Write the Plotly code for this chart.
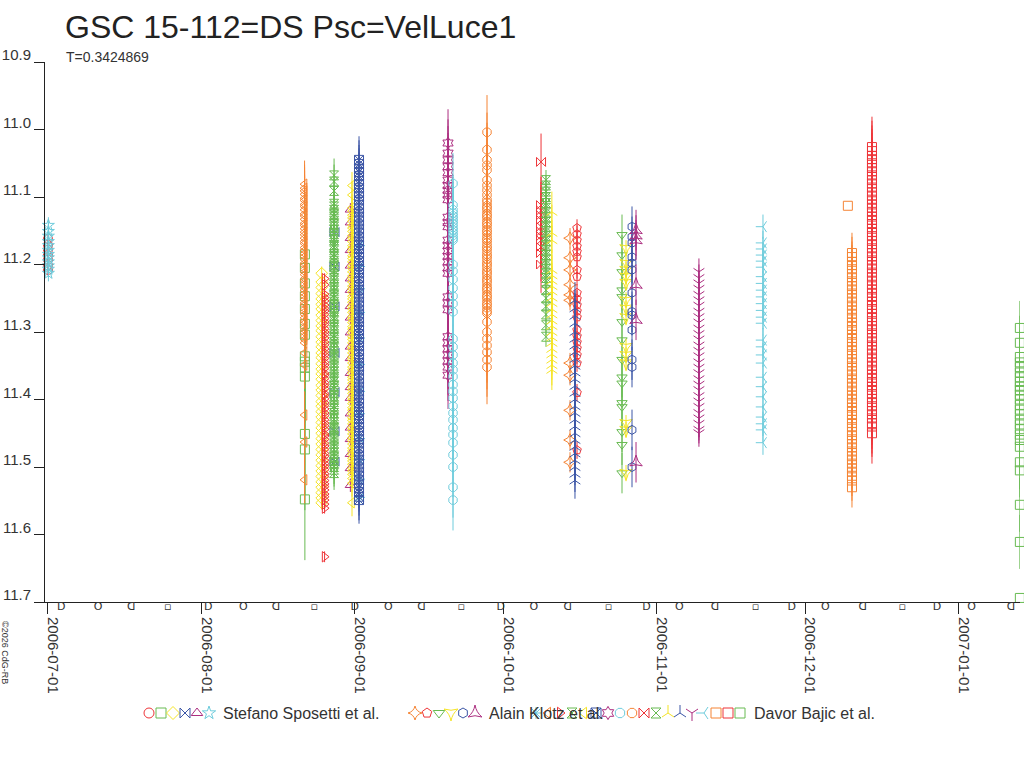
import plotly.graph_objects as go

# colour cycle of the plotting program, used in legend order
palette = ["#ee3438", "#68bb52", "#f5e426", "#3c56a6", "#ac2e80", "#6eccdc", "#f58434"]

observers = ["Stefano Sposetti et al.", "Alain Klotz et al.", "Davor Bajic et al."]
series_count = [6, 6, 18]
series_symbol = [
    "circle-open", "square-open", "diamond-open", "bowtie-open", "triangle-up-open", "star-open",
    "star-diamond-open", "pentagon-open", "triangle-down-open", "star-triangle-down-open", "hexagon-open",
    "star-triangle-up-open",
    "asterisk-open", "triangle-left-open", "triangle-right-open", "hourglass-open", "triangle-left-open",
    "square-x-open", "hexagram-open", "octagon-open", "octagon-open", "bowtie-open", "hourglass-open",
    "y-up-open", "y-up-open", "y-down-open", "y-left-open", "square-open", "square-open", "square-open",
]

y_ticks = [10.9, 11.0, 11.1, 11.2, 11.3, 11.4, 11.5, 11.6, 11.7]
x_range = ["2006-06-30 09:30", "2007-01-13 08:40"]

# moon phases shown under the time axis
moon_time = ["2006-07-03 16:37", "2006-07-11 03:02", "2006-07-17 19:12", "2006-07-25 04:31",
             "2006-08-02 08:46", "2006-08-09 10:54", "2006-08-16 01:51", "2006-08-23 19:10",
             "2006-08-31 22:56", "2006-09-07 18:42", "2006-09-14 11:15", "2006-09-22 11:45",
             "2006-09-30 11:04", "2006-10-07 03:13", "2006-10-14 00:26", "2006-10-22 05:14",
             "2006-10-29 21:25", "2006-11-05 12:58", "2006-11-12 17:45", "2006-11-20 22:18",
             "2006-11-28 06:29", "2006-12-05 00:25", "2006-12-12 14:32", "2006-12-20 14:01",
             "2006-12-27 14:48", "2007-01-03 13:57", "2007-01-11 12:45"]
moon_glyph = ["D", "O", "ᗡ", "▫"] * 6 + ["D", "O", "ᗡ"]

# magnitudes per night
jul01_red = [11.162, 11.171, 11.178, 11.186, 11.193, 11.201, 11.208]
jul01_cyan = [11.142, 11.151, 11.158, 11.166, 11.172, 11.179, 11.185, 11.190, 11.196, 11.202, 11.207, 11.213]

aug21_green = [11.185, 11.205, 11.228, 11.247, 11.266, 11.288, 11.304, 11.336, 11.344, 11.353, 11.366,
               11.451, 11.474, 11.548]
aug21_orange = [11.081, 11.087, 11.091, 11.096, 11.102, 11.105, 11.111, 11.114, 11.119, 11.125, 11.128,
                11.133, 11.139, 11.142, 11.147, 11.152, 11.156, 11.161, 11.166, 11.169, 11.175, 11.179,
                11.184, 11.188, 11.193, 11.198, 11.201, 11.207, 11.211, 11.215, 11.221, 11.224, 11.229,
                11.234, 11.238, 11.243, 11.247, 11.252, 11.257, 11.260, 11.266, 11.270, 11.274, 11.279,
                11.284, 11.287, 11.293, 11.297, 11.301, 11.306, 11.311, 11.316, 11.331, 11.349, 11.423,
                11.463, 11.519]

aug25_yellow = [11.213, 11.226, 11.234, 11.243, 11.251, 11.259, 11.266, 11.275, 11.283, 11.291, 11.298,
                11.307, 11.315, 11.322, 11.331, 11.338, 11.347, 11.355, 11.362, 11.370, 11.379, 11.386,
                11.394, 11.403, 11.410, 11.418, 11.426, 11.434, 11.442, 11.450, 11.458, 11.466, 11.474,
                11.482, 11.490, 11.498, 11.506, 11.514, 11.522, 11.530, 11.538, 11.546, 11.553]
aug25_red = [11.221, 11.230, 11.244, 11.249, 11.254, 11.260, 11.265, 11.269, 11.274, 11.280, 11.285,
             11.289, 11.295, 11.300, 11.304, 11.309, 11.315, 11.319, 11.325, 11.330, 11.334, 11.339,
             11.345, 11.349, 11.354, 11.361, 11.364, 11.369, 11.375, 11.379, 11.384, 11.391, 11.394,
             11.399, 11.405, 11.409, 11.414, 11.420, 11.424, 11.430, 11.435, 11.439, 11.444, 11.451,
             11.454, 11.459, 11.465, 11.469, 11.474, 11.480, 11.484, 11.490, 11.495, 11.499, 11.504,
             11.510, 11.514, 11.520, 11.525, 11.529, 11.534, 11.540, 11.544, 11.549, 11.555, 11.561,
             11.633]

aug27_blue = [11.152, 11.203, 11.262, 11.331, 11.389, 11.447, 11.492]
aug27_green = [11.068, 11.077, 11.091, 11.110, 11.114, 11.119, 11.125, 11.129, 11.135, 11.140, 11.144,
               11.149, 11.155, 11.159, 11.164, 11.171, 11.174, 11.179, 11.185, 11.189, 11.195, 11.200,
               11.204, 11.209, 11.215, 11.220, 11.224, 11.230, 11.234, 11.239, 11.245, 11.249, 11.255,
               11.260, 11.264, 11.269, 11.276, 11.279, 11.284, 11.290, 11.294, 11.299, 11.305, 11.309,
               11.315, 11.320, 11.324, 11.329, 11.335, 11.339, 11.345, 11.350, 11.354, 11.359, 11.366,
               11.369, 11.374, 11.380, 11.384, 11.390, 11.395, 11.399, 11.404, 11.410, 11.414, 11.420,
               11.425, 11.429, 11.434, 11.441, 11.444, 11.449, 11.455, 11.459, 11.465, 11.470, 11.474,
               11.479, 11.485, 11.489, 11.494, 11.500, 11.504, 11.509]

aug31_magenta = [11.119, 11.138, 11.161, 11.179, 11.202, 11.221, 11.238, 11.262, 11.279, 11.301, 11.322,
                 11.339, 11.361, 11.382, 11.398, 11.421, 11.442, 11.459, 11.481, 11.502, 11.527]
aug31_yellow = [11.083, 11.097, 11.116, 11.121, 11.127, 11.131, 11.136, 11.142, 11.146, 11.151, 11.157,
                11.161, 11.166, 11.172, 11.176, 11.181, 11.187, 11.191, 11.196, 11.202, 11.206, 11.211,
                11.217, 11.221, 11.226, 11.232, 11.236, 11.241, 11.247, 11.251, 11.256, 11.262, 11.266,
                11.271, 11.277, 11.281, 11.286, 11.292, 11.296, 11.301, 11.307, 11.311, 11.316, 11.322,
                11.326, 11.331, 11.337, 11.341, 11.346, 11.352, 11.356, 11.361, 11.367, 11.371, 11.376,
                11.382, 11.386, 11.391, 11.397, 11.401, 11.406, 11.412, 11.416, 11.421, 11.427, 11.431,
                11.436, 11.442, 11.446, 11.451, 11.457, 11.461, 11.466, 11.472, 11.476, 11.481, 11.487,
                11.491, 11.496, 11.502, 11.506, 11.511, 11.517, 11.524, 11.553]

sep01_cyan = [11.172, 11.203, 11.236, 11.271, 11.309, 11.348, 11.388, 11.421, 11.458, 11.489, 11.518, 11.545]
sep01_blue = [11.045, 11.051, 11.058, 11.063, 11.069, 11.076, 11.081, 11.087, 11.094, 11.099, 11.105,
              11.112, 11.117, 11.123, 11.130, 11.135, 11.141, 11.148, 11.153, 11.159, 11.166, 11.171,
              11.177, 11.184, 11.189, 11.195, 11.202, 11.207, 11.213, 11.220, 11.225, 11.231, 11.238,
              11.243, 11.249, 11.256, 11.261, 11.267, 11.274, 11.279, 11.285, 11.292, 11.297, 11.303,
              11.310, 11.315, 11.321, 11.328, 11.333, 11.339, 11.346, 11.351, 11.357, 11.364, 11.369,
              11.375, 11.382, 11.387, 11.393, 11.400, 11.405, 11.411, 11.418, 11.423, 11.429, 11.436,
              11.441, 11.447, 11.454, 11.459, 11.465, 11.472, 11.477, 11.483, 11.490, 11.495, 11.501,
              11.508, 11.513, 11.519, 11.526, 11.531, 11.537, 11.544, 11.549]

sep19_magenta = [11.020, 11.035, 11.045, 11.055, 11.064, 11.075, 11.083, 11.090, 11.097, 11.104, 11.130,
                 11.138, 11.144, 11.164, 11.172, 11.180, 11.188, 11.196, 11.205, 11.213, 11.248, 11.257,
                 11.267, 11.307, 11.316, 11.325, 11.334, 11.343, 11.352, 11.364]
sep20_cyan = [11.080, 11.112, 11.119, 11.124, 11.128, 11.132, 11.136, 11.140, 11.145, 11.149, 11.153,
              11.157, 11.161, 11.164, 11.200, 11.210, 11.222, 11.235, 11.247, 11.258, 11.270, 11.310,
              11.322, 11.334, 11.346, 11.356, 11.366, 11.378, 11.388, 11.398, 11.410, 11.420, 11.430,
              11.442, 11.452, 11.464, 11.482, 11.500, 11.530, 11.549]
sep27_orange = [11.004, 11.030, 11.045, 11.053, 11.060, 11.075, 11.083, 11.090, 11.097, 11.104, 11.108,
                11.113, 11.116, 11.120, 11.125, 11.128, 11.132, 11.137, 11.140, 11.144, 11.149, 11.152,
                11.156, 11.161, 11.164, 11.168, 11.173, 11.176, 11.180, 11.185, 11.188, 11.192, 11.197,
                11.200, 11.204, 11.209, 11.212, 11.216, 11.221, 11.224, 11.228, 11.233, 11.236, 11.240,
                11.245, 11.248, 11.252, 11.257, 11.260, 11.264, 11.269, 11.272, 11.285, 11.300, 11.310,
                11.320, 11.330, 11.341, 11.352]

oct08_red = [11.048, 11.112, 11.120, 11.127, 11.134, 11.144, 11.151, 11.158, 11.164, 11.174, 11.183, 11.200]
oct09_green = [11.075, 11.083, 11.092, 11.100, 11.109, 11.116, 11.123, 11.130, 11.137, 11.144, 11.151,
               11.158, 11.165, 11.172, 11.179, 11.186, 11.193, 11.200, 11.207, 11.213, 11.220, 11.227,
               11.238, 11.250, 11.262, 11.274, 11.290, 11.307]
oct10_yellow = [11.122, 11.153, 11.164, 11.208, 11.216, 11.224, 11.232, 11.240, 11.249, 11.257, 11.266,
                11.274, 11.283, 11.291, 11.300, 11.308, 11.316, 11.325, 11.333, 11.341, 11.349, 11.356]

oct14_orange = [11.161, 11.190, 11.208, 11.230, 11.245, 11.253, 11.346, 11.364, 11.416, 11.460, 11.493]
oct15_red = [11.146, 11.155, 11.164, 11.173, 11.181, 11.189, 11.208, 11.218, 11.242, 11.251, 11.260,
             11.269, 11.278, 11.297, 11.306, 11.315, 11.324, 11.334, 11.346, 11.390, 11.475]
oct15_blue = [11.253, 11.265, 11.276, 11.287, 11.300, 11.310, 11.320, 11.330, 11.340, 11.350, 11.360,
              11.370, 11.380, 11.390, 11.400, 11.410, 11.420, 11.430, 11.440, 11.450, 11.460, 11.470,
              11.480, 11.490, 11.500, 11.510, 11.520]

oct24_green = [11.156, 11.186, 11.211, 11.238, 11.248, 11.285, 11.312, 11.341, 11.367, 11.376, 11.405,
               11.411, 11.448, 11.467, 11.509]
oct25_yellow = [11.176, 11.198, 11.208, 11.218, 11.227, 11.253, 11.265, 11.278, 11.322, 11.334, 11.346,
                11.435, 11.445, 11.509]
oct26_blue = [11.144, 11.159, 11.168, 11.189, 11.198, 11.208, 11.242, 11.270, 11.275, 11.297, 11.341,
              11.352, 11.445, 11.500]
oct27_magenta = [11.149, 11.157, 11.164, 11.230, 11.282, 11.493]

nov09_magenta = [11.211, 11.220, 11.228, 11.236, 11.245, 11.253, 11.261, 11.270, 11.278, 11.286, 11.295,
                 11.303, 11.311, 11.320, 11.328, 11.336, 11.345, 11.353, 11.361, 11.370, 11.378, 11.386,
                 11.395, 11.403, 11.411, 11.420, 11.428, 11.436, 11.445, 11.450]
nov22_cyan = [11.144, 11.168, 11.177, 11.186, 11.195, 11.204, 11.218, 11.228, 11.238, 11.248, 11.258,
              11.268, 11.278, 11.287, 11.312, 11.322, 11.334, 11.346, 11.367, 11.381, 11.396, 11.411,
              11.426, 11.436, 11.445, 11.464]

dec09_orange = [11.113]
dec10_orange = [11.183, 11.189, 11.196, 11.201, 11.207, 11.214, 11.219, 11.225, 11.232, 11.237, 11.243,
                11.250, 11.255, 11.261, 11.268, 11.273, 11.279, 11.286, 11.291, 11.297, 11.304, 11.309,
                11.315, 11.322, 11.327, 11.333, 11.340, 11.345, 11.351, 11.358, 11.363, 11.369, 11.376,
                11.381, 11.387, 11.394, 11.399, 11.405, 11.412, 11.417, 11.423, 11.430, 11.435, 11.441,
                11.448, 11.453, 11.459, 11.466, 11.471, 11.477, 11.484, 11.489, 11.495, 11.502, 11.507,
                11.513, 11.520, 11.530]
dec14_red = [11.026, 11.032, 11.039, 11.044, 11.050, 11.057, 11.062, 11.068, 11.075, 11.080, 11.086,
             11.093, 11.098, 11.104, 11.111, 11.116, 11.122, 11.129, 11.134, 11.140, 11.147, 11.152,
             11.158, 11.165, 11.170, 11.176, 11.183, 11.188, 11.194, 11.201, 11.206, 11.212, 11.219,
             11.224, 11.230, 11.237, 11.242, 11.248, 11.255, 11.260, 11.266, 11.273, 11.278, 11.284,
             11.291, 11.296, 11.302, 11.309, 11.314, 11.320, 11.327, 11.332, 11.338, 11.345, 11.350,
             11.356, 11.363, 11.368, 11.374, 11.381, 11.386, 11.392, 11.399, 11.404, 11.410, 11.417,
             11.422, 11.428, 11.435, 11.440, 11.450]

jan13_green = [11.294, 11.316, 11.337, 11.345, 11.352, 11.360, 11.367, 11.374, 11.381, 11.386, 11.393,
               11.400, 11.408, 11.415, 11.422, 11.430, 11.437, 11.444, 11.452, 11.460, 11.470, 11.493,
               11.505, 11.556, 11.611]
jan13_green_low = [11.694]

# (series, time of night, magnitudes, error)
nights = [
    (0, "2006-07-01 00:00", jul01_red, 0.008),
    (5, "2006-07-01 02:00", jul01_cyan, 0.012),
    (1, "2006-08-21 21:30", aug21_green, 0.09),
    (13, "2006-08-21 20:00", aug21_orange, 0.035),
    (2, "2006-08-25 07:00", aug25_yellow, 0.01),
    (14, "2006-08-25 21:00", aug25_red, 0.008),
    (3, "2006-08-27 21:00", aug27_blue, 0.01),
    (15, "2006-08-27 19:00", aug27_green, 0.025),
    (4, "2006-08-31 02:00", aug31_magenta, 0.01),
    (16, "2006-08-31 10:00", aug31_yellow, 0.02),
    (12, "2006-09-01 23:00", sep01_cyan, 0.01),
    (17, "2006-09-01 20:00", sep01_blue, 0.035),
    (18, "2006-09-19 19:30", sep19_magenta, 0.05),
    (19, "2006-09-20 19:40", sep20_cyan, 0.045),
    (20, "2006-09-27 16:30", sep27_orange, 0.055),
    (21, "2006-10-08 14:30", oct08_red, 0.042),
    (22, "2006-10-09 14:30", oct09_green, 0.015),
    (23, "2006-10-10 19:00", oct10_yellow, 0.03),
    (6, "2006-10-14 11:00", oct14_orange, 0.015),
    (7, "2006-10-15 21:00", oct15_red, 0.013),
    (24, "2006-10-15 11:00", oct15_blue, 0.027),
    (8, "2006-10-24 23:00", oct24_green, 0.03),
    (9, "2006-10-25 18:30", oct25_yellow, 0.012),
    (10, "2006-10-26 23:30", oct26_blue, 0.03),
    (11, "2006-10-27 19:00", oct27_magenta, 0.03),
    (25, "2006-11-09 12:00", nov09_magenta, 0.02),
    (26, "2006-11-22 10:30", nov22_cyan, 0.018),
    (27, "2006-12-09 14:00", dec09_orange, 0.0),
    (27, "2006-12-10 10:00", dec10_orange, 0.03),
    (28, "2006-12-14 11:00", dec14_red, 0.045),
    (29, "2007-01-13 08:00", jan13_green, 0.04),
    (29, "2007-01-13 08:00", jan13_green_low, 0.0),
]

W, H = 1024, 768


def px_x(p):
    return p / W


def px_y(p):
    return 1 - p / H


fig = go.Figure()

for s, t, mags, err in sorted(nights, key=lambda n: n[0]):
    c = palette[s % len(palette)]
    fig.add_trace(go.Scatter(
        x=[t] * len(mags), y=mags, mode="markers",
        marker=dict(symbol=series_symbol[s], size=9, color=c, line=dict(width=1, color=c)),
        error_y=dict(type="constant", value=err, visible=err > 0, color=c, thickness=1, width=0),
        cliponaxis=False, hoverinfo="skip"))

# moon phases in a thin strip just under the axis line
fig.add_trace(go.Scatter(
    x=moon_time, y=[0.5] * len(moon_time), xaxis="x3", yaxis="y3", mode="text", text=moon_glyph,
    textfont=dict(size=11, color="#333333", family="DejaVu Sans"), cliponaxis=False, hoverinfo="skip"))

# legend key, drawn on a pixel overlay
legend_start = [149, 415, 536]
lx, lsym, lcol = [], [], []
s = 0
for g, n in enumerate(series_count):
    for k in range(n):
        lx.append(legend_start[g] + 12 * k)
        lsym.append(series_symbol[s])
        lcol.append(palette[s % len(palette)])
        s += 1
    fig.add_annotation(x=legend_start[g] + 12 * n, y=713, xref="x2", yref="y2", text=observers[g],
                       showarrow=False, xanchor="left", yanchor="middle",
                       font=dict(size=16, color="#333333"))
fig.add_trace(go.Scatter(
    x=lx, y=[713] * len(lx), xaxis="x2", yaxis="y2", mode="markers",
    marker=dict(symbol=lsym, size=10, color=lcol, line=dict(width=1, color=lcol)), hoverinfo="skip"))

fig.add_annotation(x=63, y=27, xref="x2", yref="y2", text="GSC 15-112=DS Psc=VelLuce1", showarrow=False,
                   xanchor="left", yanchor="middle", font=dict(size=32, color="#222222"))
fig.add_annotation(x=64, y=57, xref="x2", yref="y2", text="T=0.3424869", showarrow=False,
                   xanchor="left", yanchor="middle", font=dict(size=14, color="#333333"))
fig.add_annotation(x=5, y=652, xref="x2", yref="y2", text="©2026 CdG-RB", showarrow=False, textangle=90,
                   font=dict(size=9, color="#333333"))

fig.update_layout(
    width=W, height=H, margin=dict(l=0, r=0, t=0, b=0),
    paper_bgcolor="white", plot_bgcolor="rgba(0,0,0,0)", showlegend=False,
    font=dict(family="Liberation Sans, Arial, sans-serif", color="#333333"),
    xaxis=dict(type="date", domain=[px_x(45), px_x(1020)], range=x_range, tick0="2006-07-01",
               dtick="M1", tickformat="%Y-%m-%d", tickangle=90, ticks="outside", ticklen=11,
               tickcolor="#222222", showline=True, linecolor="#222222", showgrid=False, zeroline=False,
               tickfont=dict(size=15, color="#333333"), anchor="y", automargin=False, fixedrange=True,
               ticklabelshift=5),
    yaxis=dict(domain=[px_y(602), px_y(62)], range=[11.7, 10.9], tickvals=y_ticks,
               tickformat=".1f", ticks="outside", ticklen=10, tickcolor="#222222", showline=True,
               linecolor="#222222", showgrid=False, zeroline=False, tickfont=dict(size=15, color="#333333"),
               anchor="x", automargin=False, fixedrange=True, ticklabelshift=7),
    xaxis2=dict(domain=[0, 1], range=[0, W], visible=False, anchor="y2", fixedrange=True),
    yaxis2=dict(domain=[0, 1], range=[H, 0], visible=False, anchor="x2", fixedrange=True),
    xaxis3=dict(domain=[px_x(45), px_x(1020)], matches="x", visible=False, anchor="y3", fixedrange=True),
    yaxis3=dict(domain=[px_y(613), px_y(602)], range=[0, 1], visible=False, anchor="x3", fixedrange=True),
)

# the page's default 8px body margin would shift the whole figure
fig.write_html("out.html", config={"displayModeBar": False},
               post_script="document.body.style.margin='0';document.body.style.overflow='hidden';")
